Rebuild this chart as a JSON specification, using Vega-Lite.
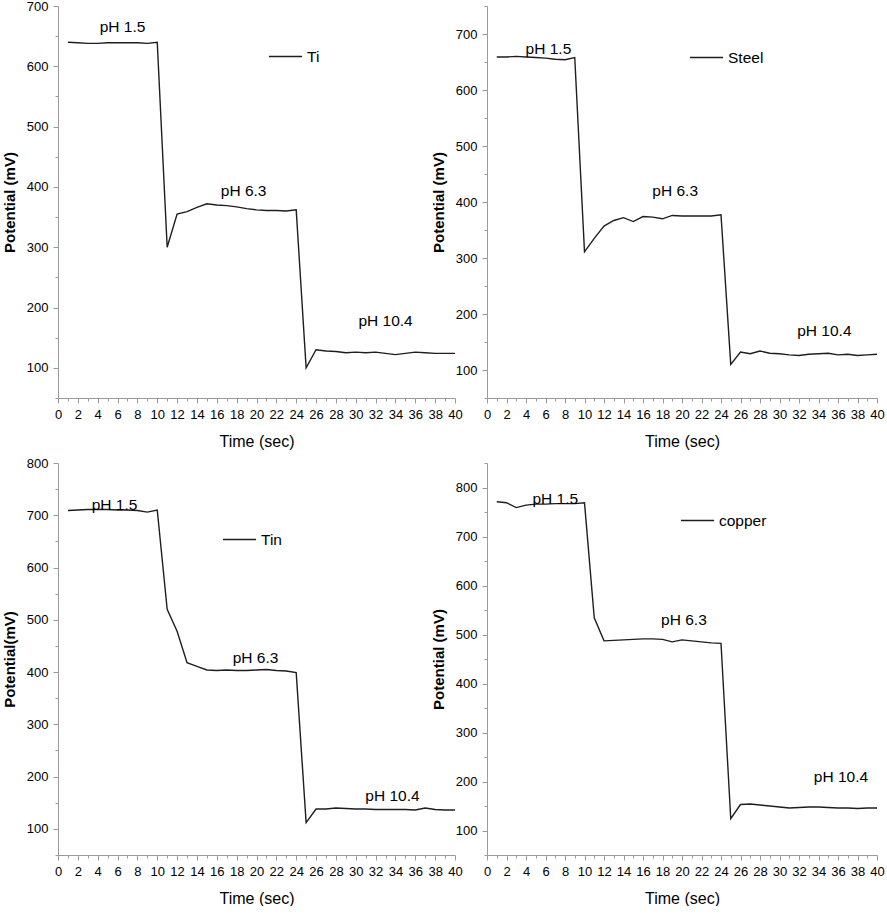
{
  "$schema": "https://vega.github.io/schema/vega-lite/v6.json",
  "background": "white",
  "padding": {"left": 2, "top": 0, "right": 0, "bottom": 0},
  "config": {
    "view": {"stroke": null},
    "axis": {
      "grid": false,
      "domainColor": "#9a9a9a",
      "tickColor": "#9a9a9a",
      "domainWidth": 1,
      "tickWidth": 1,
      "labelColor": "#000000",
      "labelFont": "Liberation Sans Narrow, Arial Narrow, Liberation Sans, sans-serif",
      "labelFontSize": 13,
      "labelFlush": false,
      "labelOverlap": false,
      "titleColor": "#000000"
    },
    "axisX": {
      "titleFont": "Liberation Sans Narrow, Arial Narrow, Liberation Sans, sans-serif",
      "titleFontSize": 16,
      "titleFontWeight": "normal",
      "labelPadding": 5,
      "titlePadding": 12
    },
    "axisY": {
      "titleFont": "Liberation Sans, Arial, sans-serif",
      "titleFontSize": 15,
      "titleFontWeight": "bold",
      "labelPadding": 5,
      "titlePadding": 9
    },
    "legend": {
      "orient": "none",
      "title": null,
      "symbolType": "stroke",
      "symbolSize": 1100,
      "symbolStrokeWidth": 1.4,
      "labelFont": "Liberation Sans Narrow, Arial Narrow, Liberation Sans, sans-serif",
      "labelFontSize": 15.5,
      "labelColor": "#000000",
      "labelOffset": 4,
      "padding": 0
    },
    "text": {"font": "Liberation Sans Narrow, Arial Narrow, Liberation Sans, sans-serif", "fontSize": 15.5, "color": "#000000"}
  },
  "datasets": {
    "series": [
      {"metal": "Ti", "t": 1, "mV": 640}, {"metal": "Ti", "t": 2, "mV": 639}, {"metal": "Ti", "t": 3, "mV": 638}, {"metal": "Ti", "t": 4, "mV": 638},
      {"metal": "Ti", "t": 5, "mV": 639}, {"metal": "Ti", "t": 6, "mV": 639}, {"metal": "Ti", "t": 7, "mV": 639}, {"metal": "Ti", "t": 8, "mV": 639},
      {"metal": "Ti", "t": 9, "mV": 638}, {"metal": "Ti", "t": 10, "mV": 640}, {"metal": "Ti", "t": 11, "mV": 300}, {"metal": "Ti", "t": 12, "mV": 355},
      {"metal": "Ti", "t": 13, "mV": 359}, {"metal": "Ti", "t": 14, "mV": 366}, {"metal": "Ti", "t": 15, "mV": 372}, {"metal": "Ti", "t": 16, "mV": 370},
      {"metal": "Ti", "t": 17, "mV": 369}, {"metal": "Ti", "t": 18, "mV": 367}, {"metal": "Ti", "t": 19, "mV": 364}, {"metal": "Ti", "t": 20, "mV": 362},
      {"metal": "Ti", "t": 21, "mV": 361}, {"metal": "Ti", "t": 22, "mV": 361}, {"metal": "Ti", "t": 23, "mV": 360}, {"metal": "Ti", "t": 24, "mV": 362},
      {"metal": "Ti", "t": 25, "mV": 100}, {"metal": "Ti", "t": 26, "mV": 130}, {"metal": "Ti", "t": 27, "mV": 128}, {"metal": "Ti", "t": 28, "mV": 127},
      {"metal": "Ti", "t": 29, "mV": 125}, {"metal": "Ti", "t": 30, "mV": 126}, {"metal": "Ti", "t": 31, "mV": 125}, {"metal": "Ti", "t": 32, "mV": 126},
      {"metal": "Ti", "t": 33, "mV": 124}, {"metal": "Ti", "t": 34, "mV": 122}, {"metal": "Ti", "t": 35, "mV": 124}, {"metal": "Ti", "t": 36, "mV": 126},
      {"metal": "Ti", "t": 37, "mV": 125}, {"metal": "Ti", "t": 38, "mV": 124}, {"metal": "Ti", "t": 39, "mV": 124}, {"metal": "Ti", "t": 40, "mV": 124},

      {"metal": "Steel", "t": 1, "mV": 659}, {"metal": "Steel", "t": 2, "mV": 659}, {"metal": "Steel", "t": 3, "mV": 660}, {"metal": "Steel", "t": 4, "mV": 659},
      {"metal": "Steel", "t": 5, "mV": 658}, {"metal": "Steel", "t": 6, "mV": 657}, {"metal": "Steel", "t": 7, "mV": 655}, {"metal": "Steel", "t": 8, "mV": 654},
      {"metal": "Steel", "t": 9, "mV": 658}, {"metal": "Steel", "t": 10, "mV": 311}, {"metal": "Steel", "t": 11, "mV": 335}, {"metal": "Steel", "t": 12, "mV": 357},
      {"metal": "Steel", "t": 13, "mV": 367}, {"metal": "Steel", "t": 14, "mV": 372}, {"metal": "Steel", "t": 15, "mV": 365}, {"metal": "Steel", "t": 16, "mV": 374},
      {"metal": "Steel", "t": 17, "mV": 373}, {"metal": "Steel", "t": 18, "mV": 370}, {"metal": "Steel", "t": 19, "mV": 376}, {"metal": "Steel", "t": 20, "mV": 375},
      {"metal": "Steel", "t": 21, "mV": 375}, {"metal": "Steel", "t": 22, "mV": 375}, {"metal": "Steel", "t": 23, "mV": 375}, {"metal": "Steel", "t": 24, "mV": 377},
      {"metal": "Steel", "t": 25, "mV": 110}, {"metal": "Steel", "t": 26, "mV": 132}, {"metal": "Steel", "t": 27, "mV": 129}, {"metal": "Steel", "t": 28, "mV": 134},
      {"metal": "Steel", "t": 29, "mV": 130}, {"metal": "Steel", "t": 30, "mV": 129}, {"metal": "Steel", "t": 31, "mV": 127}, {"metal": "Steel", "t": 32, "mV": 126},
      {"metal": "Steel", "t": 33, "mV": 128}, {"metal": "Steel", "t": 34, "mV": 129}, {"metal": "Steel", "t": 35, "mV": 130}, {"metal": "Steel", "t": 36, "mV": 127},
      {"metal": "Steel", "t": 37, "mV": 128}, {"metal": "Steel", "t": 38, "mV": 126}, {"metal": "Steel", "t": 39, "mV": 127}, {"metal": "Steel", "t": 40, "mV": 128},

      {"metal": "Tin", "t": 1, "mV": 709}, {"metal": "Tin", "t": 2, "mV": 710}, {"metal": "Tin", "t": 3, "mV": 711}, {"metal": "Tin", "t": 4, "mV": 711},
      {"metal": "Tin", "t": 5, "mV": 711}, {"metal": "Tin", "t": 6, "mV": 710}, {"metal": "Tin", "t": 7, "mV": 710}, {"metal": "Tin", "t": 8, "mV": 709},
      {"metal": "Tin", "t": 9, "mV": 706}, {"metal": "Tin", "t": 10, "mV": 710}, {"metal": "Tin", "t": 11, "mV": 520}, {"metal": "Tin", "t": 12, "mV": 478},
      {"metal": "Tin", "t": 13, "mV": 418}, {"metal": "Tin", "t": 14, "mV": 411}, {"metal": "Tin", "t": 15, "mV": 404}, {"metal": "Tin", "t": 16, "mV": 403},
      {"metal": "Tin", "t": 17, "mV": 404}, {"metal": "Tin", "t": 18, "mV": 403}, {"metal": "Tin", "t": 19, "mV": 403}, {"metal": "Tin", "t": 20, "mV": 404},
      {"metal": "Tin", "t": 21, "mV": 405}, {"metal": "Tin", "t": 22, "mV": 403}, {"metal": "Tin", "t": 23, "mV": 402}, {"metal": "Tin", "t": 24, "mV": 399},
      {"metal": "Tin", "t": 25, "mV": 112}, {"metal": "Tin", "t": 26, "mV": 138}, {"metal": "Tin", "t": 27, "mV": 138}, {"metal": "Tin", "t": 28, "mV": 140},
      {"metal": "Tin", "t": 29, "mV": 139}, {"metal": "Tin", "t": 30, "mV": 138}, {"metal": "Tin", "t": 31, "mV": 138}, {"metal": "Tin", "t": 32, "mV": 137},
      {"metal": "Tin", "t": 33, "mV": 137}, {"metal": "Tin", "t": 34, "mV": 137}, {"metal": "Tin", "t": 35, "mV": 137}, {"metal": "Tin", "t": 36, "mV": 136},
      {"metal": "Tin", "t": 37, "mV": 140}, {"metal": "Tin", "t": 38, "mV": 137}, {"metal": "Tin", "t": 39, "mV": 136}, {"metal": "Tin", "t": 40, "mV": 136},

      {"metal": "copper", "t": 1, "mV": 771}, {"metal": "copper", "t": 2, "mV": 769}, {"metal": "copper", "t": 3, "mV": 759}, {"metal": "copper", "t": 4, "mV": 764},
      {"metal": "copper", "t": 5, "mV": 766}, {"metal": "copper", "t": 6, "mV": 766}, {"metal": "copper", "t": 7, "mV": 767}, {"metal": "copper", "t": 8, "mV": 767},
      {"metal": "copper", "t": 9, "mV": 767}, {"metal": "copper", "t": 10, "mV": 769}, {"metal": "copper", "t": 11, "mV": 534}, {"metal": "copper", "t": 12, "mV": 487},
      {"metal": "copper", "t": 13, "mV": 488}, {"metal": "copper", "t": 14, "mV": 489}, {"metal": "copper", "t": 15, "mV": 490}, {"metal": "copper", "t": 16, "mV": 491},
      {"metal": "copper", "t": 17, "mV": 491}, {"metal": "copper", "t": 18, "mV": 490}, {"metal": "copper", "t": 19, "mV": 485}, {"metal": "copper", "t": 20, "mV": 489},
      {"metal": "copper", "t": 21, "mV": 487}, {"metal": "copper", "t": 22, "mV": 485}, {"metal": "copper", "t": 23, "mV": 483}, {"metal": "copper", "t": 24, "mV": 482},
      {"metal": "copper", "t": 25, "mV": 124}, {"metal": "copper", "t": 26, "mV": 153}, {"metal": "copper", "t": 27, "mV": 154}, {"metal": "copper", "t": 28, "mV": 152},
      {"metal": "copper", "t": 29, "mV": 150}, {"metal": "copper", "t": 30, "mV": 148}, {"metal": "copper", "t": 31, "mV": 146}, {"metal": "copper", "t": 32, "mV": 147},
      {"metal": "copper", "t": 33, "mV": 148}, {"metal": "copper", "t": 34, "mV": 148}, {"metal": "copper", "t": 35, "mV": 147}, {"metal": "copper", "t": 36, "mV": 146},
      {"metal": "copper", "t": 37, "mV": 146}, {"metal": "copper", "t": 38, "mV": 145}, {"metal": "copper", "t": 39, "mV": 146}, {"metal": "copper", "t": 40, "mV": 146}
    ],
    "notes": [
      {"metal": "Ti", "t": 6.5, "mV": 665, "label": "pH 1.5"},
      {"metal": "Ti", "t": 18.7, "mV": 394, "label": "pH 6.3"},
      {"metal": "Ti", "t": 33, "mV": 177, "label": "pH 10.4"},
      {"metal": "Steel", "t": 6.3, "mV": 674, "label": "pH 1.5"},
      {"metal": "Steel", "t": 19.3, "mV": 420, "label": "pH 6.3"},
      {"metal": "Steel", "t": 34.6, "mV": 169, "label": "pH 10.4"},
      {"metal": "Tin", "t": 5.7, "mV": 720, "label": "pH 1.5"},
      {"metal": "Tin", "t": 19.9, "mV": 426, "label": "pH 6.3"},
      {"metal": "Tin", "t": 33.7, "mV": 163, "label": "pH 10.4"},
      {"metal": "copper", "t": 7.0, "mV": 777, "label": "pH 1.5"},
      {"metal": "copper", "t": 20.2, "mV": 529, "label": "pH 6.3"},
      {"metal": "copper", "t": 36.3, "mV": 210, "label": "pH 10.4"}
    ]
  },
  "columns": 2,
  "bounds": "flush",
  "spacing": {"row": 65, "column": 32},
  "resolve": {"scale": {"color": "independent"}, "legend": {"color": "independent"}},
  "concat": [
    {
      "width": 397, "height": 392,
      "encoding": {
        "x": {"field": "t", "type": "quantitative", "title": "Time (sec)",
          "scale": {"domain": [0, 40], "nice": false, "zero": false},
          "axis": {"values": [0,1,2,3,4,5,6,7,8,9,10,11,12,13,14,15,16,17,18,19,20,21,22,23,24,25,26,27,28,29,30,31,32,33,34,35,36,37,38,39,40],
            "labelExpr": "datum.value % 2 === 0 ? datum.label : ''",
            "tickSize": {"condition": {"test": "datum.value % 2 === 0", "value": 5}, "value": 3}}},
        "y": {"field": "mV", "type": "quantitative", "title": "Potential (mV)",
          "scale": {"domain": [50, 700], "nice": false, "zero": false},
          "axis": {"values": [50,100,150,200,250,300,350,400,450,500,550,600,650,700],
            "labelExpr": "datum.value % 100 === 0 ? datum.label : ''",
            "tickSize": {"condition": {"test": "datum.value % 100 === 0", "value": 5}, "value": 3}}}
      },
      "layer": [
        {"data": {"name": "series"}, "transform": [{"filter": "datum.metal === 'Ti'"}],
          "mark": {"type": "line", "strokeWidth": 1.4},
          "encoding": {"color": {"field": "metal", "type": "nominal", "scale": {"range": ["#1e1e1e"]},
            "legend": {"legendX": 210, "legendY": 33}}}},
        {"data": {"name": "notes"}, "transform": [{"filter": "datum.metal === 'Ti'"}],
          "mark": {"type": "text", "align": "center", "baseline": "middle"},
          "encoding": {"text": {"field": "label"}}}
      ]
    },
    {
      "width": 390, "height": 392,
      "encoding": {
        "x": {"field": "t", "type": "quantitative", "title": "Time (sec)",
          "scale": {"domain": [0, 40], "nice": false, "zero": false},
          "axis": {"values": [0,1,2,3,4,5,6,7,8,9,10,11,12,13,14,15,16,17,18,19,20,21,22,23,24,25,26,27,28,29,30,31,32,33,34,35,36,37,38,39,40],
            "labelExpr": "datum.value % 2 === 0 ? datum.label : ''",
            "tickSize": {"condition": {"test": "datum.value % 2 === 0", "value": 5}, "value": 3}}},
        "y": {"field": "mV", "type": "quantitative", "title": "Potential (mV)",
          "scale": {"domain": [50, 750], "nice": false, "zero": false},
          "axis": {"values": [50,100,150,200,250,300,350,400,450,500,550,600,650,700,750],
            "labelExpr": "datum.value % 100 === 0 ? datum.label : ''",
            "tickSize": {"condition": {"test": "datum.value % 100 === 0", "value": 5}, "value": 3}}}
      },
      "layer": [
        {"data": {"name": "series"}, "transform": [{"filter": "datum.metal === 'Steel'"}],
          "mark": {"type": "line", "strokeWidth": 1.4},
          "encoding": {"color": {"field": "metal", "type": "nominal", "scale": {"range": ["#1e1e1e"]},
            "legend": {"legendX": 202, "legendY": 34}}}},
        {"data": {"name": "notes"}, "transform": [{"filter": "datum.metal === 'Steel'"}],
          "mark": {"type": "text", "align": "center", "baseline": "middle"},
          "encoding": {"text": {"field": "label"}}}
      ]
    },
    {
      "width": 397, "height": 392,
      "encoding": {
        "x": {"field": "t", "type": "quantitative", "title": "Time (sec)",
          "scale": {"domain": [0, 40], "nice": false, "zero": false},
          "axis": {"values": [0,1,2,3,4,5,6,7,8,9,10,11,12,13,14,15,16,17,18,19,20,21,22,23,24,25,26,27,28,29,30,31,32,33,34,35,36,37,38,39,40],
            "labelExpr": "datum.value % 2 === 0 ? datum.label : ''",
            "tickSize": {"condition": {"test": "datum.value % 2 === 0", "value": 5}, "value": 3}}},
        "y": {"field": "mV", "type": "quantitative", "title": "Potential(mV)",
          "scale": {"domain": [50, 800], "nice": false, "zero": false},
          "axis": {"values": [50,100,150,200,250,300,350,400,450,500,550,600,650,700,750,800],
            "labelExpr": "datum.value % 100 === 0 ? datum.label : ''",
            "tickSize": {"condition": {"test": "datum.value % 100 === 0", "value": 5}, "value": 3}}}
      },
      "layer": [
        {"data": {"name": "series"}, "transform": [{"filter": "datum.metal === 'Tin'"}],
          "mark": {"type": "line", "strokeWidth": 1.4},
          "encoding": {"color": {"field": "metal", "type": "nominal", "scale": {"range": ["#1e1e1e"]},
            "legend": {"legendX": 164, "legendY": 59}}}},
        {"data": {"name": "notes"}, "transform": [{"filter": "datum.metal === 'Tin'"}],
          "mark": {"type": "text", "align": "center", "baseline": "middle"},
          "encoding": {"text": {"field": "label"}}}
      ]
    },
    {
      "width": 390, "height": 392,
      "encoding": {
        "x": {"field": "t", "type": "quantitative", "title": "Time (sec)",
          "scale": {"domain": [0, 40], "nice": false, "zero": false},
          "axis": {"values": [0,1,2,3,4,5,6,7,8,9,10,11,12,13,14,15,16,17,18,19,20,21,22,23,24,25,26,27,28,29,30,31,32,33,34,35,36,37,38,39,40],
            "labelExpr": "datum.value % 2 === 0 ? datum.label : ''",
            "tickSize": {"condition": {"test": "datum.value % 2 === 0", "value": 5}, "value": 3}}},
        "y": {"field": "mV", "type": "quantitative", "title": "Potential (mV)",
          "scale": {"domain": [50, 850], "nice": false, "zero": false},
          "axis": {"values": [50,100,150,200,250,300,350,400,450,500,550,600,650,700,750,800,850],
            "labelExpr": "datum.value % 100 === 0 ? datum.label : ''",
            "tickSize": {"condition": {"test": "datum.value % 100 === 0", "value": 5}, "value": 3}}}
      },
      "layer": [
        {"data": {"name": "series"}, "transform": [{"filter": "datum.metal === 'copper'"}],
          "mark": {"type": "line", "strokeWidth": 1.4},
          "encoding": {"color": {"field": "metal", "type": "nominal", "scale": {"range": ["#1e1e1e"]},
            "legend": {"legendX": 193, "legendY": 40}}}},
        {"data": {"name": "notes"}, "transform": [{"filter": "datum.metal === 'copper'"}],
          "mark": {"type": "text", "align": "center", "baseline": "middle"},
          "encoding": {"text": {"field": "label"}}}
      ]
    }
  ]
}
